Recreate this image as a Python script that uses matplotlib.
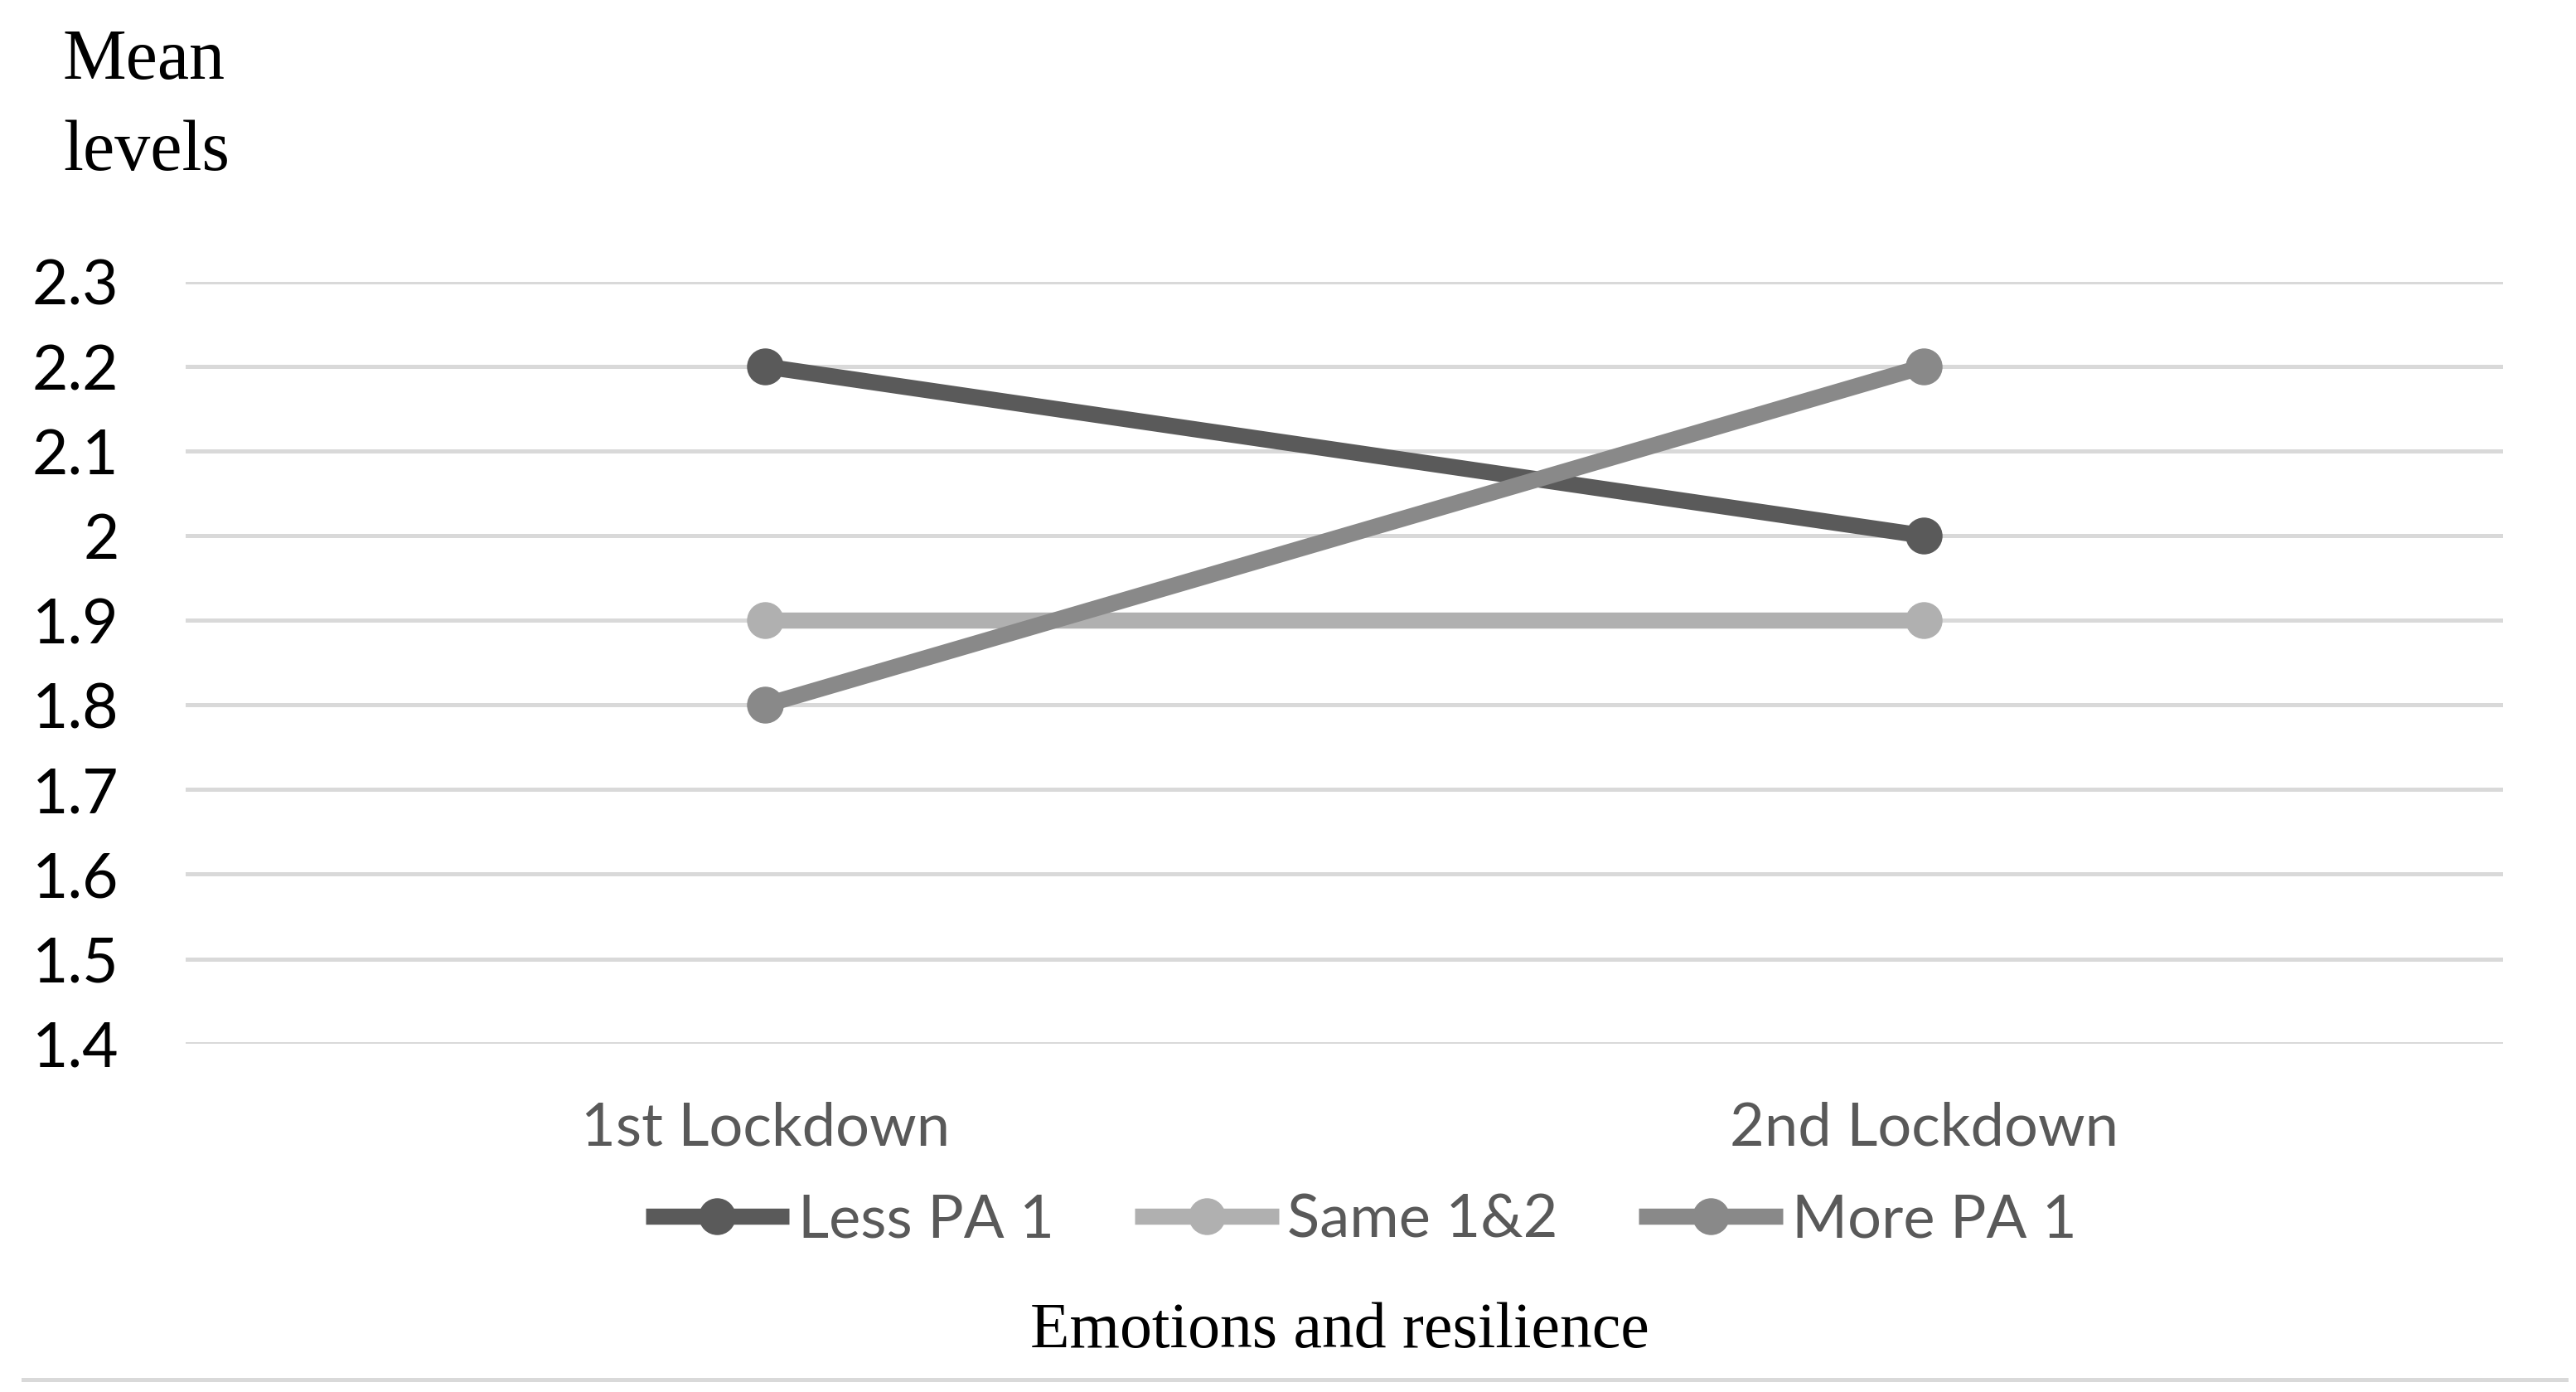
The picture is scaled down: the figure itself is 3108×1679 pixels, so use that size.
import matplotlib
matplotlib.use("Agg")
import matplotlib.pyplot as plt
from matplotlib.lines import Line2D

categories = ["1st Lockdown", "2nd Lockdown"]
series_names = ["Less PA 1", "Same 1&2", "More PA 1"]
less_pa = [2.2, 2.0]
same_pa = [1.9, 1.9]
more_pa = [1.8, 2.2]
yticks = [1.4, 1.5, 1.6, 1.7, 1.8, 1.9, 2.0, 2.1, 2.2, 2.3]
ytick_labels = ["1.4", "1.5", "1.6", "1.7", "1.8", "1.9", "2", "2.1", "2.2", "2.3"]

colors = ["#5a5a5a", "#b0b0b0", "#898989"]
sans = ["Lato", "DejaVu Sans"]
serif = ["Liberation Serif", "DejaVu Serif"]

fig = plt.figure(figsize=(31.08, 16.79), dpi=100)
ax = fig.add_axes([0.0721, 0.2504, 0.8996, 0.5471])

x = list(range(len(categories)))
for vals, name, c in zip([less_pa, same_pa, more_pa], series_names, colors):
    ax.plot(x, vals, color=c, lw=14, marker="o", ms=31, label=name,
            solid_capstyle="butt", zorder=3)

ax.set_xlim(-0.5, 1.5)
ax.set_ylim(1.4, 2.3)
ax.set_yticks(yticks)
ax.set_yticklabels(ytick_labels, fontfamily=sans, fontsize=54, color="black")
ax.set_xticks(x)
ax.set_xticklabels(categories, fontfamily=sans, fontsize=52, color="#595959")
ax.tick_params(axis="y", length=0, pad=58)
ax.tick_params(axis="x", length=0, pad=50)
ax.grid(axis="y", color="#d9d9d9", lw=3.6, zorder=0)
ax.set_axisbelow(True)
for s in ax.spines.values():
    s.set_visible(False)

leg = fig.legend(loc="center", bbox_to_anchor=(1642 / 3108, 1 - 1472 / 1679),
                 ncol=3, frameon=False, handlelength=2.4, handletextpad=0.15,
                 columnspacing=1.35, prop={"family": sans, "size": 52})
for t in leg.get_texts():
    t.set_color("#595959")

fig.text(76 / 3108, 1 - 74 / 1679, "Mean", ha="left", va="center",
         fontfamily=serif, fontsize=62, color="black")
fig.text(76 / 3108, 1 - 184 / 1679, "levels", ha="left", va="center",
         fontfamily=serif, fontsize=62, color="black")
fig.text(1616 / 3108, 1 - 1606 / 1679, "Emotions and resilience", ha="center",
         va="center", fontfamily=serif, fontsize=56, color="black")

fig.add_artist(Line2D([28 / 3108, 3096 / 3108], [1 - 1664 / 1679] * 2,
                      transform=fig.transFigure, color="#d9d9d9", lw=3.6))

fig.savefig("out.png", dpi=100, facecolor="white")
